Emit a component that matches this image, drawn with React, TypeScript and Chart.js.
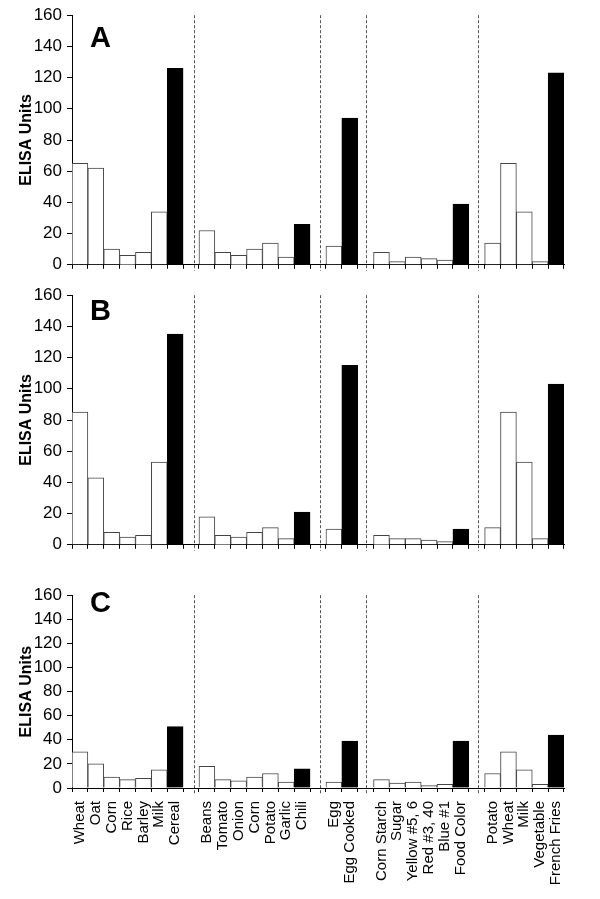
import React, { useEffect, useRef } from 'react';
import { Chart, registerables } from 'chart.js';
Chart.register(...registerables);

const categories: string[] = [
  'Wheat', 'Oat', 'Corn', 'Rice', 'Barley', 'Milk', 'Cereal', '',
  'Beans', 'Tomato', 'Onion', 'Corn', 'Potato', 'Garlic', 'Chili', '',
  'Egg', 'Egg Cooked', '',
  'Corn Starch', 'Sugar', 'Yellow #5, 6', 'Red #3, 40', 'Blue #1', 'Food Color', '',
  'Potato', 'Wheat', 'Milk', 'Vegetable', 'French Fries',
];

// categories drawn as solid black bars
const highlighted: string[] = ['Cereal', 'Chili', 'Egg Cooked', 'Food Color', 'French Fries'];

const panelA: (number | null)[] = [65, 62, 10, 6, 8, 34, 126, null, 22, 8, 6, 10, 14, 5, 26, null, 12, 94, null, 8, 2, 5, 4, 3, 39, null, 14, 65, 34, 2, 123];
const panelB: (number | null)[] = [85, 43, 8, 5, 6, 53, 135, null, 18, 6, 5, 8, 11, 4, 21, null, 10, 115, null, 6, 4, 4, 3, 2, 10, null, 11, 85, 53, 4, 103];
const panelC: (number | null)[] = [30, 20, 9, 7, 8, 15, 51, null, 18, 7, 6, 9, 12, 5, 16, null, 5, 39, null, 7, 4, 5, 2, 3, 39, null, 12, 30, 15, 3, 44];

const yMin = 0;
const yMax = 160;
const yStep = 20;
const yTitle = 'ELISA Units';

// group separators (category-scale positions within the gap categories)
const separatorPositions: number[] = [7.2, 15.1, 18.05, 25.05];

const FONT = "'Liberation Sans', Arial, Helvetica, sans-serif";

type PanelProps = {
  values: (number | null)[];
  letter: string;
  top: number;
  height: number;
  padTop: number;
  xHeight: number;
  showLabels: boolean;
  letterBaseline: number;
};

function Panel(p: PanelProps) {
  const ref = useRef<HTMLCanvasElement>(null);
  useEffect(() => {
    const isHi = categories.map((c, i) => highlighted.includes(c) && p.values[i] !== null);
    const sepPlugin = {
      id: 'sep',
      afterDatasetsDraw(chart: any) {
        const { ctx, chartArea, scales } = chart;
        ctx.save();
        ctx.strokeStyle = '#555';
        ctx.lineWidth = 1;
        ctx.setLineDash([3, 2]);
        separatorPositions.forEach((v) => {
          const x = Math.round(scales.x.getPixelForValue(v)) + 0.5;
          ctx.beginPath();
          ctx.moveTo(x, chartArea.top);
          ctx.lineTo(x, chartArea.bottom + 6);
          ctx.stroke();
        });
        ctx.restore();
      },
    };
    const letterPlugin = {
      id: 'letter',
      afterDraw(chart: any) {
        const { ctx, chartArea } = chart;
        ctx.save();
        ctx.fillStyle = '#000';
        ctx.font = `bold 29px ${FONT}`;
        ctx.textAlign = 'left';
        ctx.textBaseline = 'alphabetic';
        ctx.fillText(p.letter, chartArea.left + 18, chartArea.top + p.letterBaseline);
        ctx.restore();
      },
    };
    const chart = new Chart(ref.current as HTMLCanvasElement, {
      type: 'bar',
      data: {
        labels: categories,
        datasets: [
          {
            data: p.values,
            backgroundColor: isHi.map((h) => (h ? '#000' : '#fff')),
            borderColor: isHi.map((h) => (h ? '#000' : '#444')),
            borderWidth: 1,
            barPercentage: 1,
            categoryPercentage: 1,
          },
        ],
      },
      options: {
        animation: false,
        responsive: false,
        maintainAspectRatio: false,
        layout: { padding: { top: p.padTop, left: 0, right: 36, bottom: 0 } },
        plugins: { legend: { display: false }, tooltip: { enabled: false } },
        scales: {
          x: {
            type: 'category',
            offset: true,
            grid: { display: true, drawOnChartArea: false, drawTicks: true, tickLength: 4, color: '#000', offset: true },
            border: { display: true, color: '#000', width: 1 },
            ticks: {
              display: p.showLabels,
              autoSkip: false,
              maxRotation: 90,
              minRotation: 90,
              padding: 9,
              color: '#000',
              font: { family: FONT, size: 15 },
            },
            afterFit: (a: any) => {
              a.height = p.xHeight;
            },
          },
          y: {
            min: yMin,
            max: yMax,
            ticks: { stepSize: yStep, color: '#000', padding: 5, font: { family: FONT, size: 17 } },
            grid: { display: true, drawOnChartArea: false, drawTicks: true, tickLength: 5, color: '#000' },
            border: { display: true, color: '#000', width: 1 },
            title: {
              display: true,
              text: yTitle,
              color: '#000',
              font: { family: FONT, size: 16, weight: 'bold' },
              padding: { top: 17, bottom: 0 },
            },
            afterFit: (a: any) => {
              a.width = 72;
            },
          },
        },
      } as any,
      plugins: [sepPlugin, letterPlugin],
    });
    return () => chart.destroy();
  }, []);
  return (
    <canvas
      ref={ref}
      width={600}
      height={p.height}
      style={{ position: 'absolute', left: 0, top: p.top, width: 600, height: p.height, display: 'block' }}
    />
  );
}

export default function App() {
  return (
    <div style={{ position: 'absolute', left: 0, top: 0, width: 600, height: 899, background: '#fff' }}>
      <Panel values={panelA} letter="A" top={0} height={280} padTop={11} xHeight={11} showLabels={false} letterBaseline={32} />
      <Panel values={panelB} letter="B" top={280} height={280} padTop={11} xHeight={12} showLabels={false} letterBaseline={25} />
      <Panel values={panelC} letter="C" top={580} height={319} padTop={12} xHeight={111} showLabels={true} letterBaseline={17} />
    </div>
  );
}
